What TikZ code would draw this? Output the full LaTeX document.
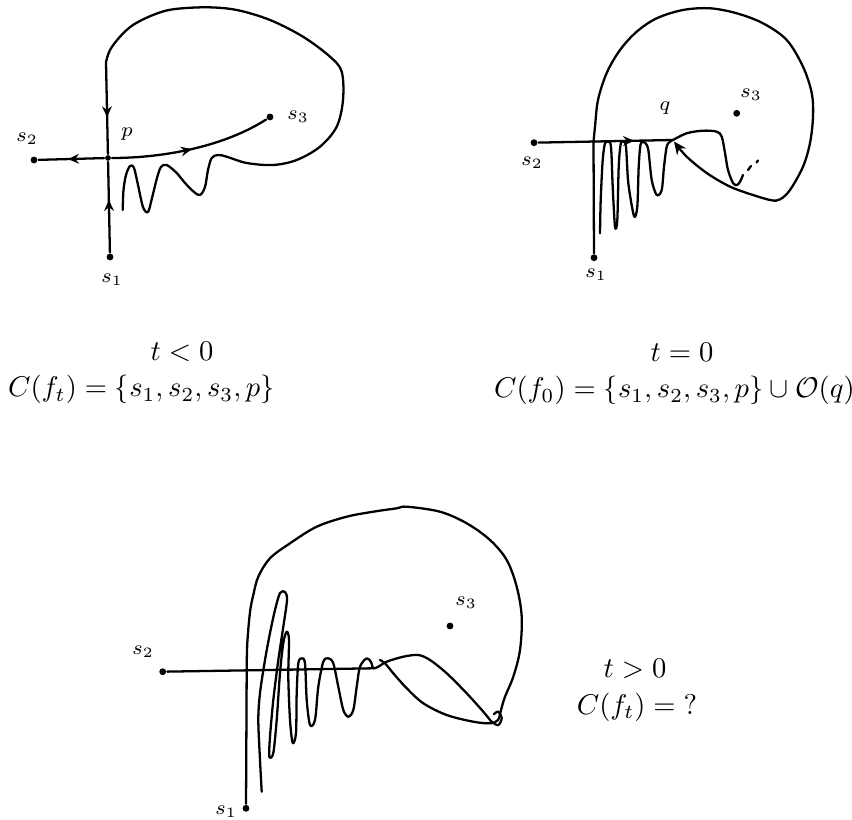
\documentclass[tikz,border=0pt]{standalone}
\usetikzlibrary{arrows.meta,decorations.markings}
\begin{document}
\begin{tikzpicture}[x=0.35pt,y=-0.35pt,
  line width=0.8pt, line join=round, line cap=round,
  dot/.style={circle,fill=black,inner sep=0pt,minimum size=2.4pt},
  lbl/.style={font=\scriptsize,inner sep=0pt},
  txt/.style={inner sep=0pt},
  midarrow/.style={postaction={decorate,decoration={markings,mark=at position #1 with {\arrow{Stealth[length=3.8pt,width=3.4pt]}}}}}
]
\useasboundingbox (0,0) rectangle (852,820);

%%%%%%%% top-left : t<0
\node[dot] (s1a) at (110,257) {};
\node[dot] (s2a) at (34,160) {};
\node[dot] (s3a) at (270,117) {};
\node[dot,minimum size=2pt] (pa) at (108,158) {};
\coordinate (ta) at (106,62);
\node[lbl] (l1a) at (112,280) {$s_1$};
\node[lbl] (l2a) at (27,139) {$s_2$};
\node[lbl] (l3a) at (298,117) {$s_3$};
\node[lbl] (lpa) at (127,134) {$p$};
\draw[midarrow=0.6] (ta) -- (pa);
\draw[midarrow=0.58] (s1a) -- (pa);
\draw[midarrow=0.55] (pa) -- (s2a);
\draw[midarrow=0.5] (pa) .. controls (165,158) and (225,146) .. (s3a);
\draw plot[smooth,tension=0.55] coordinates {(ta) (110,50) (120,36.7) (133,25) (153,15) (173,9.3) (206.7,7.3) (236.7,10) (270,20) (303,36.7) (330,56.7) (341.7,71.7) (343,100) (336.7,126.7) (320,146.7) (296.7,160) (273,165) (246.7,163) (226.7,156.7) (218,155) (211.7,158) (208,170) (205,187) (200,195) (194,192) (185,183) (176.7,173) (166.7,165) (161,167) (157,178) (152,198) (148,212) (143,207) (138,185) (134,168) (130,166) (126,175) (123.5,190) (122.7,210)};

%%%%%%%% top-right : t=0
\node[dot] (s1b) at (594,257.7) {};
\node[dot] (s2b) at (534,142.7) {};
\node[dot] (s3b) at (736.7,113.3) {};
\coordinate (qb) at (673,140);
\coordinate (vb) at (593.5,141.5);
\node[lbl] (l1b) at (596,275) {$s_1$};
\node[lbl] (l2b) at (532,163) {$s_2$};
\node[lbl] (l3b) at (751,95) {$s_3$};
\node[lbl] (lqb) at (665,108) {$q$};
\draw[midarrow=0.71] (s2b) -- (qb);
\draw (s1b) -- (vb);
\draw[-{Stealth[length=4.5pt,width=4pt]}] plot[smooth,tension=0.55] coordinates {(vb) (595,126.7) (598,100) (606.7,73) (620,50) (636.7,31.7) (656.7,18.3) (683,10) (710,8.3) (736.7,13.3) (763,23.3) (786.7,40) (803,66.7) (811.7,93) (813,116.7) (810,143) (803,166.7) (790,190) (780,199.3) (770,200) (743,191.7) (726.7,185) (706.7,173) (686.7,156.7) (674,141.5)};
\draw plot[smooth,tension=0.55] coordinates {(qb) (686.7,133.3) (703,130.7) (716.7,131.7) (721.7,136.7) (725,153) (728,170) (733,183) (737,185) (740,181.7) (743,175)};
\draw (748,170) -- (751,166);
\draw (756.5,162.5) -- (758,160.5);
\draw plot[smooth,tension=0.5] coordinates {(600,233.3) (600.7,200) (602.7,160) (605,143.3) (608,141.7) (611,146.7) (612.7,186.7) (615,226.7) (617.3,220) (618.7,166.7) (620.7,144) (623.3,141.7) (626,146.7) (628.3,183) (634,216) (637.3,206.7) (638.7,166.7) (640.7,144) (645,142.7) (648.3,150) (651.7,180) (656.7,195) (661.7,190) (664,166.7) (666.7,146.7) (670,141.7) (qb)};

%%%%%%%% bottom : t>0
\node[dot] (s1c) at (246,808.3) {};
\node[dot] (s2c) at (162.7,671.7) {};
\node[dot] (s3c) at (450,626) {};
\coordinate (hc) at (373.3,668.3);
\coordinate (vc) at (246.7,670);
\node[lbl] (l1c) at (226,812) {$s_1$};
\node[lbl] (l2c) at (143,652) {$s_2$};
\node[lbl] (l3c) at (466,603) {$s_3$};
\draw (s2c) -- (hc);
\draw (s1c) -- (vc);
\draw plot[smooth,tension=0.55] coordinates {(vc) (247.3,643) (250,612) (253.3,595) (258.3,576.7) (270,558.3) (290,543.3) (316.7,526.7) (346.7,516.7) (373.3,511.7) (396.7,508.3) (406.7,506.7) (440,511.7) (466.7,523.3) (490,540) (506.7,560) (516.7,586.7) (521.7,616.7) (520,650) (513.3,676.7) (505,696.7) (501,710) (498,720) (490,723.3) (473.3,721.7) (446.7,715) (423.3,703.3) (406.7,688.3) (393.3,673.3) (385,663.3) (380,660)};
\draw plot[smooth,tension=0.5] coordinates {(261.7,791.7) (260,760) (258.3,720) (260,693) (265,660) (270,633) (275,610) (280,593) (285,592) (287,600) (283.3,626.7) (278.3,660) (273.3,700) (270,736.7) (269.3,756.7) (273.3,753) (276.7,720) (280,673) (283.3,643) (286.7,631.7) (289,640) (288.3,676.7) (290,720) (292.7,743) (296,733) (296.7,693) (298.3,663.3) (301.7,658.3) (305,663.3) (306.7,700) (310,725) (315,720) (318.3,686.7) (323.3,661.7) (328.3,658.3) (333.3,663.3) (338.3,686.7) (343.3,710) (348.3,716.7) (353.3,710) (356.7,686.7) (360,666.7) (366.7,658.3) (371,662) (hc) (378.3,666.7) (386.7,661.7) (403.3,656.7) (418.3,655) (430,660) (446.7,673.3) (466.7,693.3) (483.3,711.7) (491.7,721.7) (498.3,725) (501.7,718.3) (498.3,711.7) (494,714)};

%%%%%%%% captions
\node[txt,anchor=base] (ta0) at (182,361) {$t<0$};
\node[txt,anchor=base west] (ca0) at (7,397) {$C(f_t)=\{s_1,s_2,s_3,p\}$};
\node[txt,anchor=base] (tb0) at (682,362) {$t=0$};
\node[txt,anchor=base west] (cb0) at (493,398) {$C(f_0)=\{s_1,s_2,s_3,p\}\cup\mathcal{O}(q)$};
\node[txt,anchor=base] (tc0) at (635,677) {$t>0$};
\node[txt,anchor=base] (cc0) at (637,714) {$C(f_t)=\;?$};
\end{tikzpicture}
\end{document}
